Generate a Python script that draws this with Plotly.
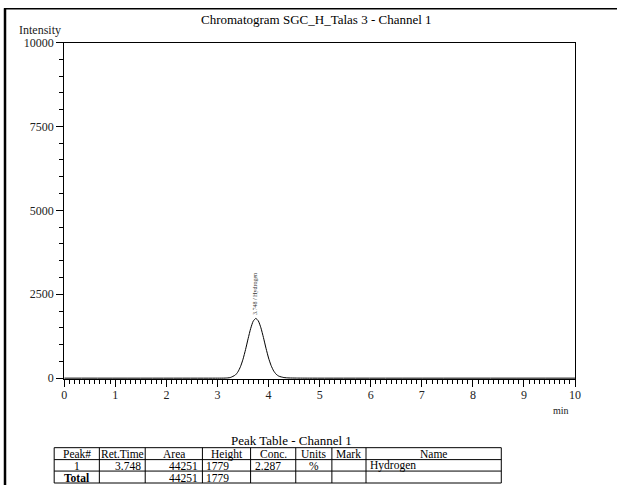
import plotly.graph_objects as go

W, H = 623, 491

# Chromatogram signal
time_min = [0, 3.0, 3.15, 3.25, 3.35, 3.40, 3.45, 3.50, 3.55, 3.60, 3.65, 3.70, 3.75,
            3.80, 3.85, 3.90, 3.95, 4.00, 4.05, 4.10, 4.15, 4.20, 4.30, 4.40, 4.55, 4.8, 10]
intensity = [0, 0, 2, 18, 94, 187, 341, 564, 853, 1177, 1480, 1699, 1779,
             1705, 1500, 1210, 890, 600, 375, 215, 115, 60, 18, 6, 2, 0, 0]

y_ticks = [0, 2500, 5000, 7500, 10000]
y_tick_labels = ["0", "2500", "5000", "7500", "10000"]
x_ticks = list(range(0, 11))

peak_label = "3.748 / Hydrogen"
peak_time = 3.748
peak_height = 1779

# Peak table
tbl_header = ["Peak#", "Ret.Time", "Area", "Height", "Conc.", "Units", "Mark", "Name"]
tbl_rows = [
    ["1", "3.748", "44251", "1779", "2.287", "%", "", "Hydrogen"],
    ["<b>Total</b>", "", "44251", "1779", "", "", "", ""],
]
col_align = ["center", "right", "right", "left", "left", "center", "center", "left"]
col_edges_px = [55, 100, 145.7, 202.7, 250.7, 295.7, 331.7, 365.7, 500.5]
row_edges_px = [448.5, 460.5, 472, 484]

FONT = "Liberation Serif"

# page-to-photo compensation (the photographed page is slightly reduced)
SX, OX = 0.982, 4.0
SY, OY = 0.978, 5.8

def px_x(x):
    return ((x - OX) / SX) / W

def px_y(y):
    return 1 - ((y - OY) / SY) / H

fig = go.Figure()

fig.add_trace(go.Scatter(
    x=time_min, y=intensity, mode="lines",
    line=dict(color="black", width=1, shape="spline", smoothing=0.6),
    hoverinfo="skip", showlegend=False,
))

fig.update_layout(
    width=W, height=H, autosize=False,
    margin=dict(l=0, r=0, t=0, b=0, pad=0),
    paper_bgcolor="white", plot_bgcolor="white",
    font=dict(family=FONT, color="black"),
    xaxis=dict(
        domain=[px_x(65), px_x(574)],
        range=[0, 10], tickvals=x_ticks,
        ticks="outside", ticklen=7, tickcolor="black", tickwidth=1,
        minor=dict(dtick=0.1, ticks="outside", ticklen=4, tickcolor="black", tickwidth=1),
        showgrid=False, zeroline=False,
        showline=True, linecolor="black", linewidth=1, mirror=True,
        tickfont=dict(family=FONT, size=12, color="#222"),
        ticklabelstandoff=-3,
    ),
    yaxis=dict(
        domain=[px_y(380), px_y(41.5)],
        range=[-40, 10000], tickvals=y_ticks, ticktext=y_tick_labels,
        ticks="outside", ticklen=7, tickcolor="black", tickwidth=1,
        minor=dict(dtick=500, ticks="outside", ticklen=4, tickcolor="black", tickwidth=1),
        showgrid=False, zeroline=False,
        showline=True, linecolor="black", linewidth=1, mirror=True,
        tickfont=dict(family=FONT, size=12, color="#222"),
        ticklabelstandoff=0,
    ),
    showlegend=False,
)

# Frame lines
fig.add_shape(type="line", xref="paper", yref="paper",
              x0=px_x(5), x1=1, y0=px_y(7.5), y1=px_y(7.5),
              line=dict(color="black", width=1.5))
fig.add_shape(type="line", xref="paper", yref="paper",
              x0=px_x(6), x1=px_x(6), y0=px_y(7), y1=0,
              line=dict(color="black", width=2.5))

# Peak table built from the arrays
line_style = dict(color="black", width=1)
for xe in col_edges_px:
    fig.add_shape(type="line", xref="paper", yref="paper",
                  x0=px_x(xe), x1=px_x(xe), y0=px_y(row_edges_px[0]), y1=px_y(row_edges_px[-1]),
                  line=line_style)
for ye in row_edges_px:
    fig.add_shape(type="line", xref="paper", yref="paper",
                  x0=px_x(col_edges_px[0]), x1=px_x(col_edges_px[-1]), y0=px_y(ye), y1=px_y(ye),
                  line=line_style)

def text_at(xp, yp, text, size, xa="center", color="black", **kw):
    fig.add_annotation(xref="paper", yref="paper", x=px_x(xp), y=px_y(yp),
                       xanchor=xa, yanchor="middle", text=text, showarrow=False,
                       font=dict(family=FONT, size=size, color=color), **kw)

def cell_text(r, c, text, align):
    x0, x1 = col_edges_px[c], col_edges_px[c + 1]
    ymid = (row_edges_px[r] + row_edges_px[r + 1]) / 2 + 0.5
    if align == "center":
        text_at((x0 + x1) / 2, ymid, text, 11.5, "center")
    elif align == "right":
        text_at(x1 - 2, ymid, text, 11.5, "right")
    else:
        text_at(x0 + 2, ymid, text, 11.5, "left")

for c, h in enumerate(tbl_header):
    cell_text(0, c, h, "center")
for r, row in enumerate(tbl_rows):
    for c, v in enumerate(row):
        if v:
            cell_text(r + 1, c, v, col_align[c])

# Texts
text_at(316, 18, "Chromatogram SGC_H_Talas 3 - Channel 1", 13)
text_at(41, 29, "Intensity", 12, color="#222")
text_at(560, 411, "min", 10, color="#222")
text_at(291, 441, "Peak Table - Channel 1", 13)
fig.add_annotation(xref="x", yref="y", x=peak_time, y=peak_height,
                   text=peak_label, showarrow=False, textangle=-90,
                   xanchor="center", yanchor="bottom", yshift=1,
                   font=dict(family=FONT, size=6, color="#333"))

fig.write_html("out.html", config={"responsive": False, "displayModeBar": False},
               post_script="document.body.style.margin='0';document.body.style.padding='0';document.body.style.overflow='hidden';")
